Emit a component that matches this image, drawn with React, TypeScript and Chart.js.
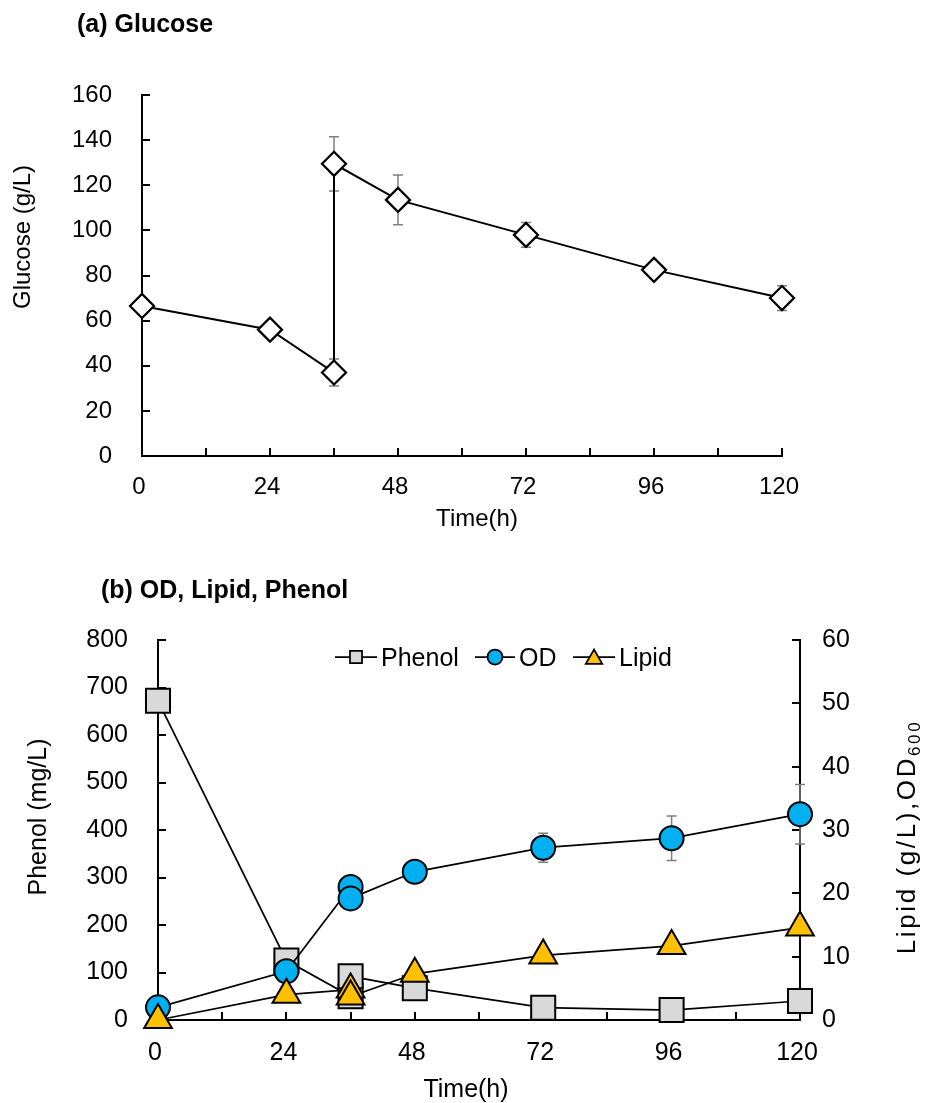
import React, { useEffect, useRef } from 'react';
import { Chart, registerables } from 'chart.js';
import { drawPoint } from 'chart.js/helpers';

Chart.register(...registerables);

const FONT = "'Liberation Sans', Arial, Helvetica, sans-serif";
Chart.defaults.font.family = FONT;
Chart.defaults.color = '#000';

// ---------- data ----------
const hours = [0, 24, 36, 36, 48, 72, 96, 120];

const glucose = [66.5, 56, 37, 129.5, 113.5, 98, 82.5, 70];
const glucoseErr = [0, 0, 6, 12, 11, 5.5, 1.5, 5.5];

const phenol = [672, 125, 50, 92, 67, 26, 21, 40];
const od = [2, 7.7, 21, 19.2, 23.4, 27.2, 28.7, 32.5];
const odErr = [0, 0, 0, 0, 0, 2.3, 3.5, 4.7];
const lipid = [0, 4, 4.8, 3.7, 7.3, 10.2, 11.7, 14.6];

const seriesNames = ['Phenol', 'OD', 'Lipid'];

const pts = (ys: number[]) => hours.map((h, i) => ({ x: h, y: ys[i] }));

// ---------- plugins ----------
const innerTicks = (len: number) => ({
  id: 'innerTicks',
  beforeDatasetsDraw(chart: any) {
    const ctx = chart.ctx;
    ctx.save();
    ctx.strokeStyle = '#000';
    ctx.lineWidth = 2;
    Object.values(chart.scales).forEach((s: any) => {
      s.ticks.forEach((t: any) => {
        const p = Math.round(s.getPixelForValue(t.value));
        ctx.beginPath();
        if (s.isHorizontal()) {
          ctx.moveTo(p, s.top);
          ctx.lineTo(p, s.top - len);
        } else if (s.position === 'left') {
          ctx.moveTo(s.right, p);
          ctx.lineTo(s.right + len, p);
        } else {
          ctx.moveTo(s.left, p);
          ctx.lineTo(s.left - len, p);
        }
        ctx.stroke();
      });
    });
    ctx.restore();
  },
});

const errorBars = {
  id: 'errorBars',
  beforeDatasetsDraw(chart: any) {
    const ctx = chart.ctx;
    ctx.save();
    ctx.strokeStyle = '#7f7f7f';
    ctx.lineWidth = 1.5;
    chart.data.datasets.forEach((ds: any, i: number) => {
      const errs = ds.errorBars;
      if (!errs) return;
      const meta = chart.getDatasetMeta(i);
      const ys = chart.scales[meta.yAxisID];
      meta.data.forEach((pt: any, j: number) => {
        const e = errs[j];
        if (!e) return;
        const v = ds.data[j].y;
        const top = ys.getPixelForValue(v + e);
        const bot = ys.getPixelForValue(v - e);
        const x = pt.x;
        ctx.beginPath();
        ctx.moveTo(x, top);
        ctx.lineTo(x, bot);
        ctx.moveTo(x - 5, top);
        ctx.lineTo(x + 5, top);
        ctx.moveTo(x - 5, bot);
        ctx.lineTo(x + 5, bot);
        ctx.stroke();
      });
    });
    ctx.restore();
  },
};

function drawLabel(
  ctx: CanvasRenderingContext2D,
  text: string,
  x: number,
  y: number,
  size: number,
  opts: { bold?: boolean; rotate?: boolean; align?: CanvasTextAlign } = {}
) {
  ctx.save();
  ctx.translate(x, y);
  if (opts.rotate) ctx.rotate(-Math.PI / 2);
  ctx.font = `${opts.bold ? 'bold ' : ''}${size}px ${FONT}`;
  ctx.fillStyle = '#000';
  ctx.textAlign = opts.align || 'center';
  ctx.textBaseline = 'alphabetic';
  ctx.fillText(text, 0, size * 0.35);
  ctx.restore();
}

const topTexts = {
  id: 'topTexts',
  afterDraw(chart: any) {
    const ctx = chart.ctx;
    drawLabel(ctx, '(a) Glucose', 77, 23, 25, { bold: true, align: 'left' });
    drawLabel(ctx, 'Glucose (g/L)', 22, 237, 24, { rotate: true });
    drawLabel(ctx, 'Time(h)', 477, 518, 24);
  },
};

const legendItems = [
  { name: seriesNames[0], lx: 335, rx: 377, px: 356, tx: 381, style: 'rect', r: 8.5, fill: '#D9D9D9' },
  { name: seriesNames[1], lx: 475, rx: 515, px: 495, tx: 519, style: 'circle', r: 7.5, fill: '#00B0F0' },
  { name: seriesNames[2], lx: 573, rx: 615, px: 594, tx: 619, style: 'triangle', r: 9.5, fill: '#FFC000' },
];

const bottomTexts = {
  id: 'bottomTexts',
  afterDraw(chart: any) {
    const ctx: CanvasRenderingContext2D = chart.ctx;
    drawLabel(ctx, '(b) OD, Lipid, Phenol', 101, 44, 25, { bold: true, align: 'left' });
    drawLabel(ctx, 'Phenol (mg/L)', 37.5, 272, 25, { rotate: true });
    drawLabel(ctx, 'Time(h)', 466, 543, 25);

    // legend
    const ly = 112;
    legendItems.forEach((it) => {
      ctx.save();
      ctx.strokeStyle = '#000';
      ctx.lineWidth = 1.75;
      ctx.beginPath();
      ctx.moveTo(it.lx, ly);
      ctx.lineTo(it.rx, ly);
      ctx.stroke();
      ctx.fillStyle = it.fill;
      ctx.lineWidth = 1.75;
      const py = it.style === 'triangle' ? ly + 2 : ly;
      drawPoint(ctx, { pointStyle: it.style as any, rotation: 0, radius: it.r, borderWidth: 1.75 }, it.px, py);
      ctx.restore();
      drawLabel(ctx, it.name, it.tx, ly, 25, { align: 'left' });
    });

    // right axis title with subscript
    ctx.save();
    ctx.translate(906, 292);
    ctx.rotate(-Math.PI / 2);
    ctx.fillStyle = '#000';
    ctx.textAlign = 'left';
    ctx.textBaseline = 'alphabetic';
    (ctx as any).letterSpacing = '2.6px';
    ctx.font = `26px ${FONT}`;
    const main = 'Lipid (g/L),OD';
    const w1 = ctx.measureText(main).width;
    ctx.font = `17px ${FONT}`;
    const w2 = ctx.measureText('600').width;
    const start = -(w1 + w2) / 2;
    ctx.font = `26px ${FONT}`;
    ctx.fillText(main, start, 9);
    ctx.font = `17px ${FONT}`;
    ctx.fillText('600', start + w1, 14);
    ctx.restore();
  },
};

// ---------- configs ----------
const axisBorder = { display: true, color: '#000', width: 2 };
const noGrid = { display: false, drawTicks: false, tickLength: 0 };

function glucoseConfig(): any {
  return {
    type: 'line',
    data: {
      datasets: [
        {
          label: 'Glucose',
          data: pts(glucose),
          errorBars: glucoseErr,
          borderColor: '#000',
          borderWidth: 2,
          pointStyle: 'rectRot',
          pointRadius: 12,
          pointBackgroundColor: '#fff',
          pointBorderColor: '#000',
          pointBorderWidth: 2.25,
          clip: false,
        },
      ],
    },
    options: {
      responsive: false,
      animation: false,
      devicePixelRatio: 1,
      layout: { padding: { top: 95, right: 147, left: 0, bottom: 0 } },
      plugins: { legend: { display: false }, tooltip: { enabled: false } },
      scales: {
        x: {
          type: 'linear',
          min: 0,
          max: 120,
          grid: noGrid,
          border: axisBorder,
          ticks: {
            stepSize: 12,
            autoSkip: false,
            maxRotation: 0,
            padding: 17,
            labelOffset: -3,
            font: { size: 24 },
            color: '#000',
            callback: (v: number) => (v % 24 === 0 ? String(v) : ''),
          },
          afterFit: (s: any) => {
            s.height = 89;
          },
        },
        y: {
          min: 0,
          max: 160,
          grid: noGrid,
          border: axisBorder,
          ticks: { stepSize: 20, padding: 30, font: { size: 24 }, color: '#000' },
          afterFit: (s: any) => {
            s.width = 142;
          },
        },
      },
    },
    plugins: [innerTicks(8), errorBars, topTexts],
  };
}

function bottomConfig(): any {
  return {
    type: 'line',
    data: {
      datasets: [
        {
          label: seriesNames[0],
          data: pts(phenol),
          yAxisID: 'y',
          order: 3,
          borderColor: '#000',
          borderWidth: 1.75,
          pointStyle: 'rect',
          pointRadius: 17,
          pointBackgroundColor: '#D9D9D9',
          pointBorderColor: '#000',
          pointBorderWidth: 2,
          clip: false,
        },
        {
          label: seriesNames[1],
          data: pts(od),
          errorBars: odErr,
          yAxisID: 'y1',
          order: 2,
          borderColor: '#000',
          borderWidth: 1.75,
          pointStyle: 'circle',
          pointRadius: 12,
          pointBackgroundColor: '#00B0F0',
          pointBorderColor: '#000',
          pointBorderWidth: 2,
          clip: false,
        },
        {
          label: seriesNames[2],
          data: pts(lipid),
          yAxisID: 'y1',
          order: 1,
          borderColor: '#000',
          borderWidth: 1.75,
          pointStyle: 'triangle',
          pointRadius: 16,
          pointBackgroundColor: '#FFC000',
          pointBorderColor: '#000',
          pointBorderWidth: 2,
          clip: false,
        },
      ],
    },
    options: {
      responsive: false,
      animation: false,
      devicePixelRatio: 1,
      layout: { padding: { top: 95, right: 0, left: 0, bottom: 0 } },
      plugins: { legend: { display: false }, tooltip: { enabled: false } },
      scales: {
        x: {
          type: 'linear',
          min: 0,
          max: 120,
          grid: noGrid,
          border: axisBorder,
          ticks: {
            stepSize: 12,
            autoSkip: false,
            maxRotation: 0,
            padding: 18,
            labelOffset: -3,
            font: { size: 25 },
            color: '#000',
            callback: (v: number) => (v % 24 === 0 ? String(v) : ''),
          },
          afterFit: (s: any) => {
            s.height = 83;
          },
        },
        y: {
          position: 'left',
          min: 0,
          max: 800,
          grid: noGrid,
          border: axisBorder,
          ticks: { stepSize: 100, padding: 30, font: { size: 25 }, color: '#000' },
          afterFit: (s: any) => {
            s.width = 158;
          },
        },
        y1: {
          position: 'right',
          min: 0,
          max: 60,
          grid: noGrid,
          border: axisBorder,
          ticks: { stepSize: 10, padding: 22, font: { size: 25 }, color: '#000' },
          afterFit: (s: any) => {
            s.width = 129;
          },
        },
      },
    },
    plugins: [innerTicks(8), errorBars, bottomTexts],
  };
}

function ChartCanvas({ width, height, makeConfig }: { width: number; height: number; makeConfig: () => any }) {
  const ref = useRef<HTMLCanvasElement>(null);
  useEffect(() => {
    const chart = new Chart(ref.current as HTMLCanvasElement, makeConfig());
    return () => chart.destroy();
  }, []);
  return <canvas ref={ref} width={width} height={height} style={{ display: 'block', width, height }} />;
}

export default function App() {
  useEffect(() => {
    document.body.style.margin = '0';
  }, []);
  return (
    <div style={{ width: 929, height: 1103, background: '#fff' }}>
      <ChartCanvas width={929} height={545} makeConfig={glucoseConfig} />
      <ChartCanvas width={929} height={558} makeConfig={bottomConfig} />
    </div>
  );
}
